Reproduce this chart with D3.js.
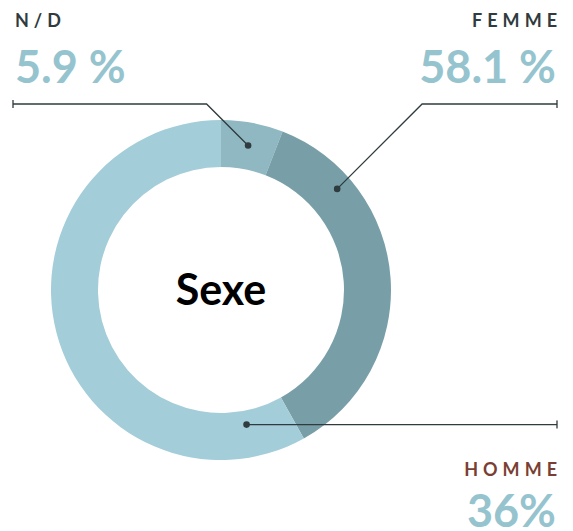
<!DOCTYPE html>
<html lang="fr">
<head>
<meta charset="UTF-8">
<title>Sexe</title>
<script src="https://d3js.org/d3.v7.min.js"></script>
<style>
  body { margin: 0; background: #fff; }
  text { font-family: Lato, "Noto Sans", sans-serif; }
</style>
</head>
<body>
<script>
// slices clockwise from the top, as drawn
const sliceNames = ["N/D", "seg2", "seg3"];
const sliceValues = [5.9, 36.0, 58.1];
const sliceColors = ["#8fb8c2", "#789fa8", "#a3cdd8"];

// labels as printed in the corners
const labelNames = ["N/D", "FEMME", "HOMME"];
const labelValues = ["5.9 %", "58.1 %", "36%"];
const labelColors = ["#2f3b3e", "#2f3b3e", "#7a3f34"];

const width = 573, height = 531;
const cx = 221, cy = 290, rOuter = 170, rInner = 123;

const svg = d3.select("body").append("svg")
    .attr("width", width)
    .attr("height", height);

const pie = d3.pie().sort(null).value(d => d);
const arcs = pie(sliceValues);
const arc = d3.arc().innerRadius(rInner).outerRadius(rOuter);

const g = svg.append("g").attr("transform", `translate(${cx},${cy})`);
g.selectAll("path.slice")
    .data(arcs)
    .enter().append("path")
    .attr("class", "slice")
    .attr("d", arc)
    .attr("fill", (d, i) => sliceColors[i]);

g.append("text")
    .attr("text-anchor", "middle")
    .attr("y", 15)
    .attr("font-size", 43)
    .attr("font-weight", 700)
    .attr("fill", "#000")
    .text("Sexe");

// leader anchor: fraction along each slice and radius
const anchorFrac = [0.5, 0.214, 0.088];
const anchorR = [147, 154, 137];
function anchor(i) {
  const a = arcs[i];
  const ang = a.startAngle + (a.endAngle - a.startAngle) * anchorFrac[i];
  return [cx + anchorR[i] * Math.sin(ang), cy - anchorR[i] * Math.cos(ang)];
}

const lineColor = "#2f3b3e";
const lines = svg.append("g")
    .attr("fill", "none")
    .attr("stroke", lineColor)
    .attr("stroke-width", 1.3);

// N/D : horizontal to the left, then 45° down to the dot
let p = anchor(0);
let yl = 104;
lines.append("path").attr("d", `M13,${yl}H${p[0] - (p[1] - yl)}L${p[0]},${p[1]}`);
lines.append("path").attr("d", `M13,${yl - 4}V${yl + 4}`);

// top right
p = anchor(1);
lines.append("path").attr("d", `M557,${yl}H${p[0] + (p[1] - yl)}L${p[0]},${p[1]}`);
lines.append("path").attr("d", `M557,${yl - 4}V${yl + 4}`);

// bottom right
p = anchor(2);
lines.append("path").attr("d", `M${p[0]},${p[1]}H557`);
lines.append("path").attr("d", `M557,${p[1] - 4}V${p[1] + 4}`);

svg.selectAll("circle.dot")
    .data([0, 1, 2])
    .enter().append("circle")
    .attr("class", "dot")
    .attr("cx", i => anchor(i)[0])
    .attr("cy", i => anchor(i)[1])
    .attr("r", 3.3)
    .attr("fill", lineColor);

// corner labels
const labelPos = [
  { x: 15, y: 27, vy: 83, anchor: "start" },
  { x: 557, y: 27, vy: 83, anchor: "end" },
  { x: 557, y: 476, vy: 527, anchor: "end" }
];
labelPos.forEach((lp, i) => {
  const ls = 5;
  svg.append("text")
      .attr("x", lp.anchor === "end" ? lp.x + ls : lp.x)
      .attr("y", lp.y)
      .attr("text-anchor", lp.anchor)
      .attr("font-size", 18)
      .attr("font-weight", 700)
      .attr("letter-spacing", ls)
      .attr("fill", labelColors[i])
      .text(labelNames[i]);
  svg.append("text")
      .attr("x", lp.anchor === "end" ? lp.x - 1 : lp.x)
      .attr("y", lp.vy)
      .attr("text-anchor", lp.anchor)
      .attr("font-size", 45)
      .attr("font-weight", 700)
      .attr("fill", "#95c4cf")
      .text(labelValues[i]);
});
</script>
</body>
</html>
